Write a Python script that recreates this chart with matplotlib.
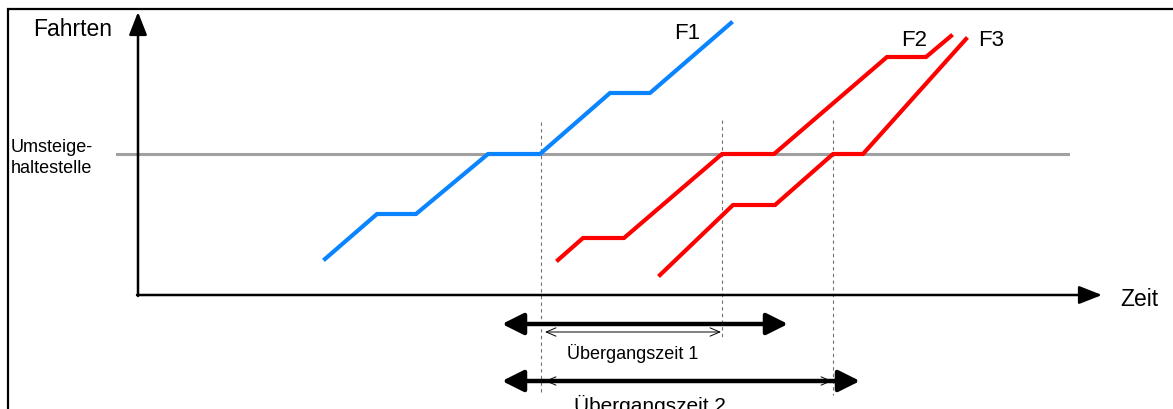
#!/usr/bin/env python3
"""Skizze: Fahrten über Zeit mit Umsteigehaltestelle und Übergangszeiten."""

import matplotlib

matplotlib.use("Agg")
import matplotlib.pyplot as plt

plt.rcParams["font.family"] = ["Liberation Sans", "DejaVu Sans"]

# ----------------------- Daten (Bildkoordinaten in px) ------------------ #
W, H = 1173, 410

# Fahrten: Zeit (x) / Ort (y, nach unten wachsend)
f1_x = [325, 377, 416, 488, 540, 610, 650, 731]
f1_y = [260, 215, 215, 155, 155, 94, 94, 24]
f2_x = [558, 583, 624, 722, 774, 887, 926, 951]
f2_y = [261, 239, 239, 155, 155, 58, 58, 37]
f3_x = [660, 733, 775, 833, 863, 966]
f3_y = [276, 206, 206, 155, 155, 40]

# Umsteigehaltestelle
stop_y = 155
stop_x = (117, 1068)

# Koordinatenachsen
origin = (138, 296)
y_axis_top = 13
x_axis_end = 1102

# Hilfslinien (Ankunft/Abfahrt an der Umsteigehaltestelle)
guide_x = [541, 722, 833]
guide_top = [123, 121, 121]
guide_bottom = [396, 340, 396]

# Übergangszeiten: (links, rechts, y)
thick_arrows = [(502, 788, 325), (502, 860, 382)]
thin_arrows = [(545, 721, 333), (545, 832, 382)]

BLUE = "#0a84ff"
RED = "#ff0000"

# ----------------------------- Plot ------------------------------------- #
fig = plt.figure(figsize=(W / 100, H / 100), dpi=100)
ax = fig.add_axes([0, 0, 1, 1])
ax.set_xlim(0, W)
ax.set_ylim(H, 0)
ax.axis("off")

# Rahmen (nur links und oben sichtbar)
ax.plot([7.5, 7.5, W + 5], [H + 5, 10, 10], color="black", lw=1.6,
        solid_joinstyle="miter", clip_on=False)

# Hilfslinien gestrichelt
for gx, gt, gb in zip(guide_x, guide_top, guide_bottom):
    ax.plot([gx, gx], [gt, gb], color="#707070", lw=0.8, ls=(0, (3, 3)))

# Umsteigehaltestelle
ax.plot(stop_x, [stop_y, stop_y], color="#a0a0a0", lw=2.2)

# Achsen mit Pfeilspitzen
axis_style = dict(arrowstyle="-|>,head_length=14,head_width=5.5",
                  color="black", lw=1.8, shrinkA=0, shrinkB=0,
                  mutation_scale=1)
ax.annotate("", xy=(origin[0], y_axis_top), xytext=(origin[0], origin[1] + 1),
            arrowprops=axis_style)
ax.annotate("", xy=(x_axis_end, origin[1]), xytext=(origin[0] - 1, origin[1]),
            arrowprops=axis_style)

# Fahrten
ax.plot(f1_x, f1_y, color=BLUE, lw=3, solid_joinstyle="miter")
ax.plot(f2_x, f2_y, color=RED, lw=3, solid_joinstyle="miter")
ax.plot(f3_x, f3_y, color=RED, lw=3, solid_joinstyle="miter")

# Übergangszeiten
for x0, x1, yy in thick_arrows:
    ax.annotate("", xy=(x1, yy), xytext=(x0, yy),
                arrowprops=dict(arrowstyle="<|-|>,head_length=13,head_width=6.5",
                                color="black", lw=3.2, shrinkA=0, shrinkB=0,
                                mutation_scale=1))
for x0, x1, yy in thin_arrows:
    ax.annotate("", xy=(x1, yy), xytext=(x0, yy),
                arrowprops=dict(arrowstyle="<->,head_length=7,head_width=3",
                                color="black", lw=0.7, shrinkA=0, shrinkB=0,
                                mutation_scale=1))

# Beschriftungen
ax.text(33, 36, "Fahrten", fontsize=16.5, ha="left", va="baseline")
ax.text(1120, 306, "Zeit", fontsize=16.5, ha="left", va="baseline")
ax.text(674, 39, "F1", fontsize=16, ha="left", va="baseline")
ax.text(901, 46, "F2", fontsize=16, ha="left", va="baseline")
ax.text(978, 46, "F3", fontsize=16, ha="left", va="baseline")
ax.text(11, 152, "Umsteige-", fontsize=13, ha="left", va="baseline")
ax.text(11, 173, "haltestelle", fontsize=13, ha="left", va="baseline")
ax.text(567, 359, "Übergangszeit 1", fontsize=13, ha="left", va="baseline")
ax.text(574, 412, "Übergangszeit 2", fontsize=15, ha="left", va="baseline",
        clip_on=False)

fig.savefig("out.png", dpi=100)
